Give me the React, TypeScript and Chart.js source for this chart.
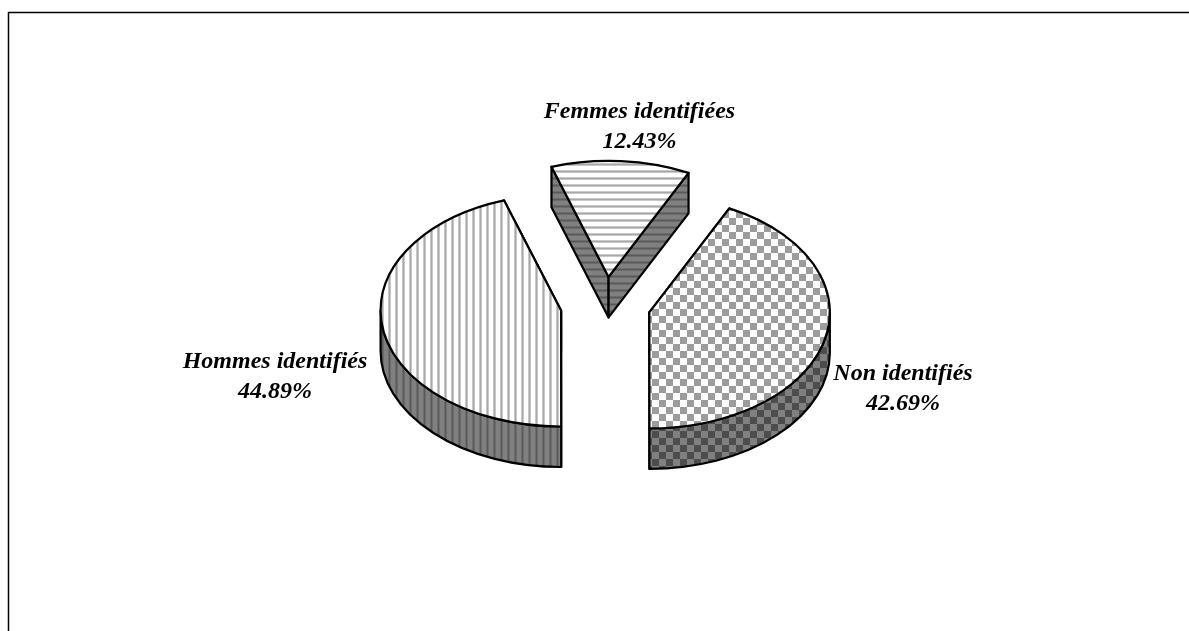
import React, { useEffect, useRef } from "react";
import { Chart, registerables } from "chart.js";

Chart.register(...registerables);

const categories = ["Non identifiés", "Hommes identifiés", "Femmes identifiées"];
const shares = [42.69, 44.89, 12.43];
const labelPositions = [
  { x: 903, y: 387 },
  { x: 275, y: 375 },
  { x: 639.5, y: 125 },
];
const ROTATION_DEG = 26.3;
const RADIUS = 180.5;
const SQUASH = 0.643;
const DEPTH = 40.5;
const EXPLODE = 45;
const CENTER_X = 605.5;
const CENTER_Y = 305.8;

function makePattern(
  ctx: CanvasRenderingContext2D,
  kind: string,
  colors: string[],
  tx: number,
  ty: number,
) {
  const n = kind === "c" ? 14 : 7;
  const c = document.createElement("canvas");
  c.width = n;
  c.height = n;
  const p = c.getContext("2d")!;
  p.fillStyle = colors[0];
  p.fillRect(0, 0, n, n);
  if (kind === "c") {
    p.fillStyle = colors[1];
    p.fillRect(0, 0, 7, 7);
    p.fillRect(7, 7, 7, 7);
  } else {
    // soft-edged stripe: light, dark, light
    [colors[2], colors[1], colors[2]].forEach((col, k) => {
      p.fillStyle = col;
      if (kind === "v") p.fillRect(k, 0, 1, n);
      else p.fillRect(0, k, n, 1);
    });
  }
  const pat = ctx.createPattern(c, "repeat")!;
  pat.setTransform(new DOMMatrix().translate(tx, ty));
  return pat;
}

const pie3d = {
  id: "pie3d",
  beforeDatasetsDraw(chart: any) {
    const ctx: CanvasRenderingContext2D = chart.ctx;
    const arcs = chart.getDatasetMeta(0).data;
    const styles = [
      {
        top: makePattern(ctx, "c", ["#ffffff", "#9c9c9c"], 652, 309),
        side: makePattern(ctx, "c", ["#808080", "#4d4d4d"], 652, 319),
      },
      {
        top: makePattern(ctx, "v", ["#ffffff", "#a8a8a8", "#c8c8c8"], 388, 0),
        side: makePattern(ctx, "v", ["#808080", "#5a5a5a", "#6c6c6c"], 388, 0),
      },
      {
        top: makePattern(ctx, "h", ["#ffffff", "#a8a8a8", "#c8c8c8"], 0, 170),
        side: makePattern(ctx, "h", ["#808080", "#5a5a5a", "#6c6c6c"], 0, 170),
      },
    ];

    ctx.save();
    ctx.strokeStyle = "#000";
    ctx.lineWidth = 1.5;
    ctx.beginPath();
    ctx.moveTo(8.5, 631);
    ctx.lineTo(8.5, 12.5);
    ctx.lineTo(1189, 12.5);
    ctx.stroke();

    ctx.lineWidth = 2.2;
    ctx.lineJoin = "round";
    arcs.forEach((arc: any, i: number) => {
      const { startAngle: a0, endAngle: a1, outerRadius: r, x, y } = arc;
      const mid = (a0 + a1) / 2;
      const cx = x + Math.cos(mid) * EXPLODE;
      const cy = y + Math.sin(mid) * EXPLODE * SQUASH;
      const ry = r * SQUASH;
      const pt = (a: number, dy = 0) => [cx + Math.cos(a) * r, cy + Math.sin(a) * ry + dy];

      ctx.fillStyle = styles[i].side;
      [a0, a1].forEach((a) => {
        const [px, py] = pt(a);
        ctx.beginPath();
        ctx.moveTo(cx, cy);
        ctx.lineTo(px, py);
        ctx.lineTo(px, py + DEPTH);
        ctx.lineTo(cx, cy + DEPTH);
        ctx.closePath();
        ctx.fill();
        ctx.stroke();
      });

      // visible part of the outer wall: the lower half of the ellipse
      const TAU = Math.PI * 2;
      for (let k = -1; k <= 1; k++) {
        const s = Math.max(a0, k * TAU);
        const e = Math.min(a1, k * TAU + Math.PI);
        if (e <= s) continue;
        ctx.beginPath();
        ctx.ellipse(cx, cy, r, ry, 0, s, e);
        ctx.ellipse(cx, cy + DEPTH, r, ry, 0, e, s, true);
        ctx.closePath();
        ctx.fill();
        ctx.stroke();
      }

      ctx.fillStyle = styles[i].top;
      ctx.beginPath();
      ctx.moveTo(cx, cy);
      ctx.ellipse(cx, cy, r, ry, 0, a0, a1);
      ctx.closePath();
      ctx.fill();
      ctx.stroke();
    });

    ctx.fillStyle = "#000";
    ctx.font = 'italic bold 24px "Liberation Serif"';
    ctx.textAlign = "center";
    ctx.textBaseline = "alphabetic";
    categories.forEach((name, i) => {
      const { x, y } = labelPositions[i];
      ctx.fillText(name, x, y - 7);
      ctx.fillText(shares[i].toFixed(2) + "%", x, y + 23);
    });
    ctx.restore();
    return false;
  },
};

export default function App() {
  const ref = useRef<HTMLCanvasElement>(null);
  useEffect(() => {
    const chart = new Chart(ref.current!, {
      type: "pie",
      data: { labels: categories, datasets: [{ data: shares }] },
      options: {
        animation: false,
        responsive: false,
        rotation: ROTATION_DEG,
        radius: RADIUS,
        layout: {
          padding: {
            left: CENTER_X * 2 - 1189 > 0 ? CENTER_X * 2 - 1189 : 0,
            right: 1189 - CENTER_X * 2 > 0 ? 1189 - CENTER_X * 2 : 0,
            top: CENTER_Y * 2 - 631 > 0 ? CENTER_Y * 2 - 631 : 0,
            bottom: 631 - CENTER_Y * 2 > 0 ? 631 - CENTER_Y * 2 : 0,
          },
        },
        plugins: { legend: { display: false }, tooltip: { enabled: false } },
      } as any,
      plugins: [pie3d],
    });
    return () => chart.destroy();
  }, []);
  return (
    <div style={{ position: "fixed", inset: 0, background: "#fff" }}>
      <canvas ref={ref} width={1189} height={631} style={{ display: "block" }} />
    </div>
  );
}
